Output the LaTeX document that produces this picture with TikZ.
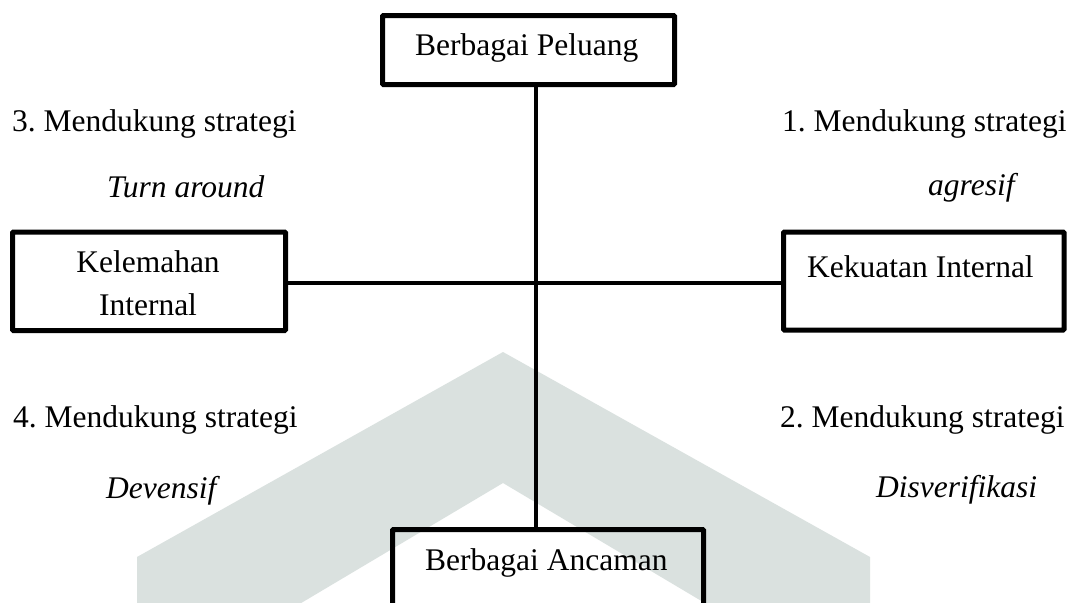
\documentclass[tikz,border=0pt]{standalone}
\usepackage{fontspec}
\setmainfont{Liberation Serif}
\definecolor{wm}{HTML}{DAE1DF}
\tikzset{
  box/.style={draw=black, line width=5pt, rounded corners=1pt, inner sep=0pt, fill=none},
  conn/.style={draw=black, line width=4.5pt},
  txt/.style={inner sep=0pt, font=\fontsize{31.5}{43}\selectfont\frenchspacing},
  itxt/.style={txt, font=\fontsize{31.5}{43}\selectfont\frenchspacing\itshape},
}
\begin{document}
\begin{tikzpicture}[x=1pt,y=-1pt]
\useasboundingbox (0,0) rectangle (1072,603);
\clip (0,0) rectangle (1072,603);
\fill[white] (0,0) rectangle (1072,603);
% watermark chevron
\fill[wm] (137,615) -- (137,557) -- (503,352) -- (870,557) -- (870,615)
  -- (725,615) -- (503,483) -- (281,615) -- cycle;
% boxes
\node[box, minimum width=292pt, minimum height=69pt] (peluang) at (528.5,50) {};
\node[box, minimum width=273pt, minimum height=98.5pt] (lemah) at (149,281.25) {};
\node[box, minimum width=280.5pt, minimum height=98pt] (kuat) at (923.75,281) {};
\node[box, minimum width=311pt, minimum height=100pt] (ancaman) at (548,579.5) {};
% box texts
\node[txt, anchor=base west] (tpel) at (415,55) {Berbagai Peluang};
\node[txt, anchor=base] (tlem1) at (148,272) {Kelemahan};
\node[txt, anchor=base] (tlem2) at (148,315) {Internal};
\node[txt, anchor=base west] (tkuat) at (807,277) {Kekuatan Internal};
\node[txt, anchor=base west] (tanc) at (425,570) {Berbagai Ancaman};
% quadrant labels
\node[txt, anchor=base west] (q3) at (12,131) {3. Mendukung strategi};
\node[itxt, anchor=base west] (q3b) at (107,197) {Turn around};
\node[txt, anchor=base west] (q1) at (782,131) {1. Mendukung strategi};
\node[itxt, anchor=base west] (q1b) at (928,195) {agresif};
\node[txt, anchor=base west] (q4) at (13,427) {4. Mendukung strategi};
\node[itxt, anchor=base west] (q4b) at (106,498) {Devensif};
\node[txt, anchor=base west] (q2) at (780,427) {2. Mendukung strategi};
\node[itxt, anchor=base west] (q2b) at (876,497) {Disverifikasi};
% axes
\draw[conn] (536,0 |- peluang.south) -- (536,0 |- ancaman.north);
\draw[conn] (lemah.east |- 0,283) -- (kuat.west |- 0,283);
\end{tikzpicture}
\end{document}
